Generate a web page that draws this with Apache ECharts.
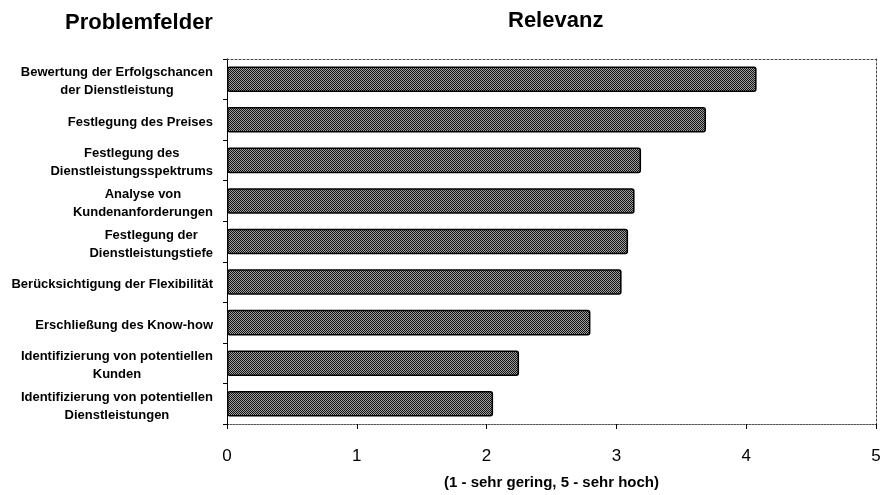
<!DOCTYPE html>
<html>
<head>
<meta charset="utf-8">
<script src="https://cdn.jsdelivr.net/npm/echarts@6/dist/echarts.min.js"></script>
<style>
  html, body { margin: 0; padding: 0; background: #fff; }
  #chart { width: 888px; height: 495px; }
</style>
</head>
<body>
<div id="chart"></div>
<script>
// Problem areas (top to bottom) and their mean relevance rating
const categories = [
  'Bewertung der Erfolgschancen\nder Dienstleistung',
  'Festlegung des Preises',
  'Festlegung des\nDienstleistungsspektrums',
  'Analyse von\nKundenanforderungen',
  'Festlegung der\nDienstleistungstiefe',
  'Berücksichtigung der Flexibilität',
  'Erschließung des Know-how',
  'Identifizierung von potentiellen\nKunden',
  'Identifizierung von potentiellen\nDienstleistungen'
];
const relevance = [4.08, 3.69, 3.19, 3.14, 3.09, 3.04, 2.80, 2.25, 2.05];
const xTicks = [0, 1, 2, 3, 4, 5];

const FONT = 'Liberation Sans, Arial, Helvetica, sans-serif';

// Fine checkerboard fill for the bars
function makeChecker() {
  const c = document.createElement('canvas');
  c.width = 2; c.height = 2;
  const g = c.getContext('2d');
  g.fillStyle = '#a0a0a0'; g.fillRect(0, 0, 2, 2);
  g.fillStyle = '#111111';
  g.fillRect(0, 0, 1, 1);
  g.fillRect(1, 1, 1, 1);
  return c;
}

const chart = echarts.init(document.getElementById('chart'), null, { renderer: 'canvas' });

const option = {
  backgroundColor: '#fff',
  animation: false,
  title: [
    {
      text: 'Problemfelder', left: 60, top: 7,
      textStyle: { fontFamily: FONT, fontWeight: 'bold', fontSize: 22, color: '#000' }
    },
    {
      text: 'Relevanz', left: 503, top: 5,
      textStyle: { fontFamily: FONT, fontWeight: 'bold', fontSize: 22, color: '#000' }
    }
  ],
  grid: { left: 227, right: 12, top: 59, bottom: 67, containLabel: false },
  xAxis: [
    {
      type: 'value', min: xTicks[0], max: xTicks[xTicks.length - 1], interval: 1,
      position: 'bottom',
      axisLine: { show: true, lineStyle: { color: '#555', width: 1, type: [2, 1] } },
      axisTick: { show: true, length: 5, lineStyle: { color: '#000', width: 1 } },
      axisLabel: { fontFamily: FONT, fontSize: 17, color: '#000', margin: 24 },
      splitLine: { show: false },
      name: '(1 - sehr gering, 5 - sehr hoch)',
      nameLocation: 'middle', nameGap: 51,
      nameTextStyle: { fontFamily: FONT, fontWeight: 'bold', fontSize: 15, color: '#000' }
    },
    {
      type: 'value', min: 0, max: 5, position: 'top',
      axisLine: { show: true, lineStyle: { color: '#444', width: 1, type: [2, 2] } },
      axisTick: { show: false }, axisLabel: { show: false }, splitLine: { show: false }
    }
  ],
  yAxis: [
    {
      type: 'category', data: categories, inverse: true,
      axisLine: { show: true, onZero: false, lineStyle: { color: '#000', width: 1 } },
      axisTick: { show: true, length: 4, lineStyle: { color: '#000' } },
      axisLabel: {
        margin: 14,
        align: 'right',
        padding: [5, 0, 0, 0],
        formatter: function (v) {
          return v.split('\n').map(function (s) { return '{c|' + s + '}'; }).join('\n');
        },
        rich: {
          c: {
            align: 'center', fontFamily: FONT, fontWeight: 'bold', fontSize: 13,
            color: '#000', lineHeight: 18
          }
        }
      }
    },
    {
      type: 'category', data: categories, inverse: true, position: 'right',
      axisLine: { show: true, onZero: false, lineStyle: { color: '#444', width: 1, type: [2, 2] } },
      axisTick: { show: false }, axisLabel: { show: false }
    }
  ],
  series: [
    {
      type: 'bar',
      data: relevance,
      xAxisIndex: 0, yAxisIndex: 0,
      barCategoryGap: '37%',
      itemStyle: {
        color: { image: makeChecker(), repeat: 'repeat' },
        borderColor: '#000', borderWidth: 1.5, borderRadius: 2
      },
      z: 3
    }
  ]
};

chart.setOption(option);
</script>
</body>
</html>
